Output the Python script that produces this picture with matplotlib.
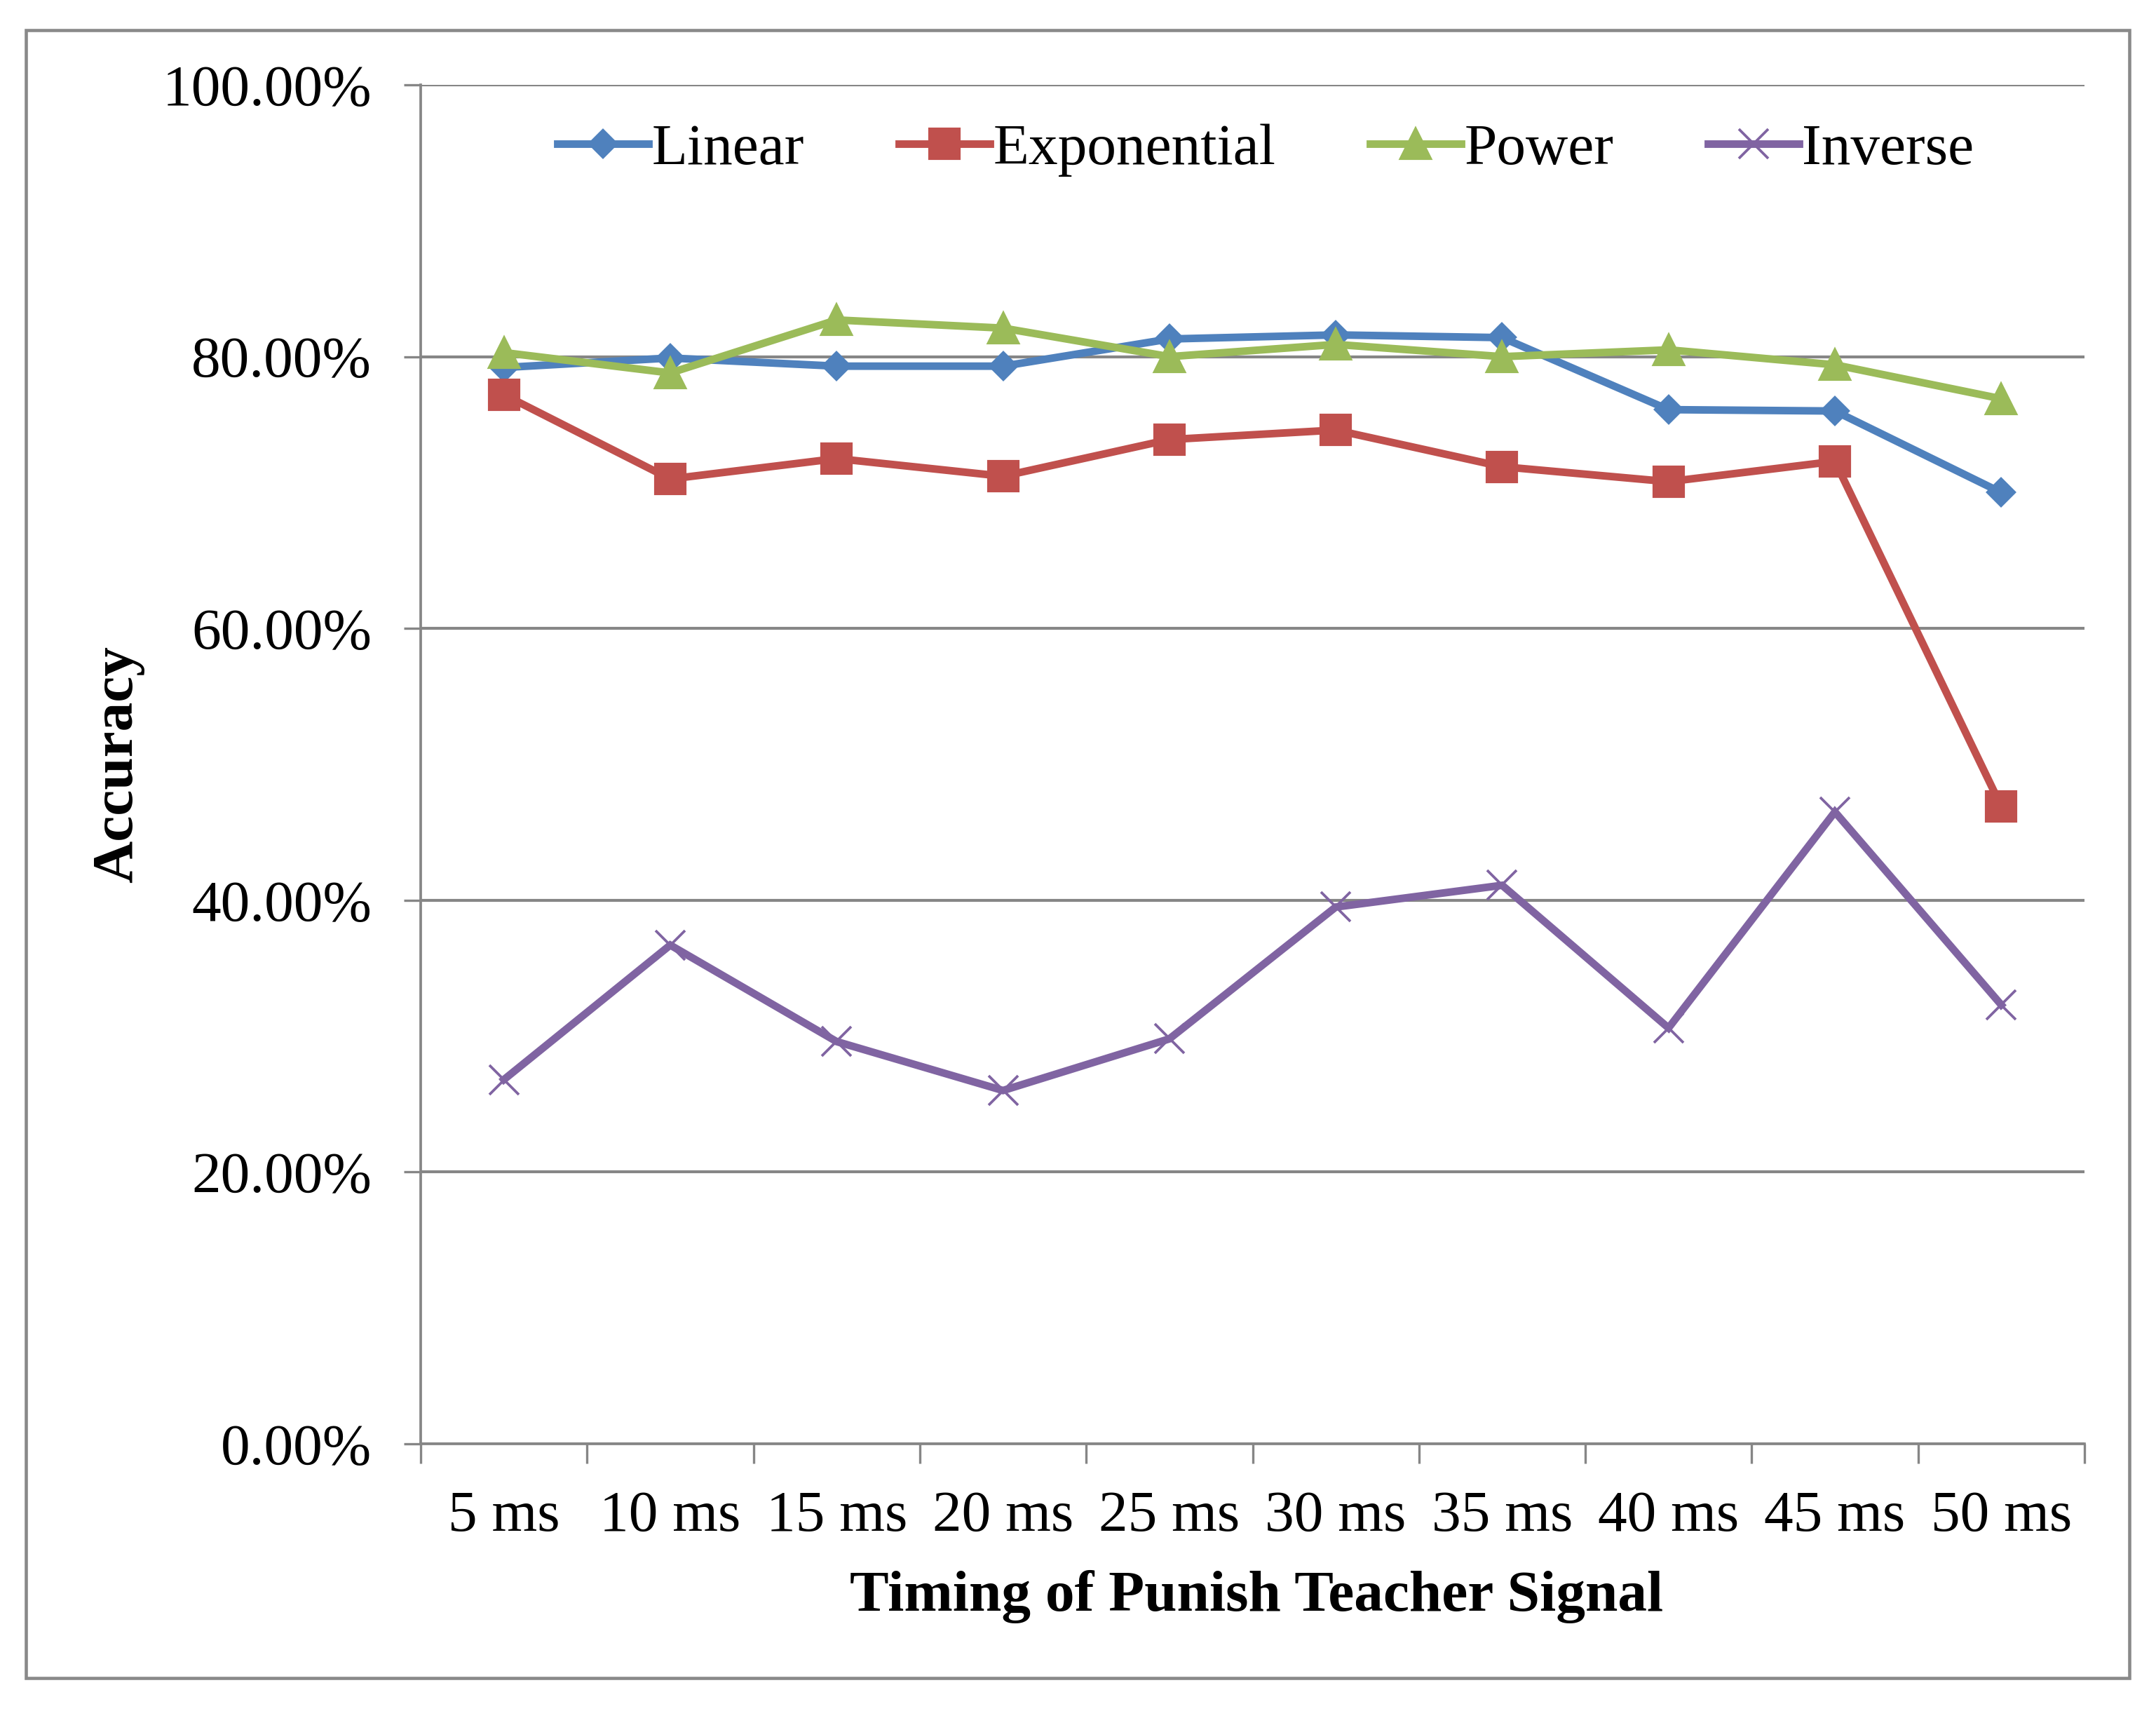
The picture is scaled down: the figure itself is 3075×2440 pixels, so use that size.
import matplotlib
matplotlib.use("Agg")
import matplotlib.pyplot as plt
from matplotlib.patches import Rectangle
from matplotlib.ticker import FixedLocator, FuncFormatter

categories = ["5 ms", "10 ms", "15 ms", "20 ms", "25 ms", "30 ms", "35 ms", "40 ms", "45 ms", "50 ms"]
linear = [79.2, 79.9, 79.3, 79.3, 81.3, 81.6, 81.4, 76.1, 76.0, 70.0]
exponential = [77.2, 71.0, 72.5, 71.2, 73.9, 74.6, 71.9, 70.8, 72.3, 46.9]
power = [80.3, 78.8, 82.7, 82.1, 80.0, 80.9, 80.0, 80.5, 79.4, 76.9]
inverse = [26.8, 36.7, 29.6, 26.0, 29.8, 39.5, 41.1, 30.6, 46.5, 32.3]
series_names = ["Linear", "Exponential", "Power", "Inverse"]
y_ticks = [0, 20, 40, 60, 80, 100]

plt.rcParams['font.family'] = ['Liberation Serif', 'DejaVu Serif']

W, H = 3075, 2440
fig = plt.figure(figsize=(W / 300, H / 300), dpi=300)
fig.patch.set_facecolor("white")

L, R, T, B = 600, 2973, 121, 2059
ax = fig.add_axes([L / W, 1 - B / H, (R - L) / W, (B - T) / H])

x = list(range(len(categories)))
styles = [
    dict(color="#4F81BD", marker="D", ms=6.5),
    dict(color="#C0504D", marker="s", ms=10),
    dict(color="#9BBB59", marker="^", ms=10),
    dict(color="#8064A2", marker="x", ms=10, mew=0.9),
]
for name, vals, st in zip(series_names, [linear, exponential, power, inverse], styles):
    ax.plot(x, vals, label=name, lw=2.6, solid_joinstyle="miter", **st)

ax.set_xlim(-0.5, len(categories) - 0.5)
ax.set_ylim(0, 100)

gray = "#868686"
ax.yaxis.set_major_locator(FixedLocator(y_ticks))
ax.yaxis.set_major_formatter(FuncFormatter(lambda v, p: f"{v:.2f}%"))
ax.grid(axis="y", color=gray, lw=1.0, zorder=0)
ax.set_axisbelow(True)

ax.set_xticks(x)
ax.set_xticklabels(categories)
ax.set_xticks([i - 0.5 for i in range(len(categories) + 1)], minor=True)
ax.tick_params(axis="x", which="major", length=0, pad=16, labelsize=20)
ax.tick_params(axis="x", which="minor", length=6.7, width=0.8, color=gray, direction="out")
ax.tick_params(axis="y", which="major", length=5.8, width=0.8, color=gray, pad=11, labelsize=20)

for s in ["top", "right"]:
    ax.spines[s].set_visible(False)
for s in ["left", "bottom"]:
    ax.spines[s].set_color(gray)
    ax.spines[s].set_linewidth(0.9)

leg = ax.legend(loc="center", bbox_to_anchor=(0.508, 0.952), ncol=4, frameon=False,
                fontsize=20, handlelength=1.56, handletextpad=0.05, columnspacing=1.62,
                borderaxespad=0, borderpad=0)

fig.text(169 / W, 1 - 1090 / H, "Accuracy", rotation=90, ha="center", va="center",
         fontsize=20, fontweight="bold")
fig.text(1792 / W, 1 - 2297 / H, "Timing of Punish Teacher Signal", ha="center", va="baseline",
         fontsize=20, fontweight="bold")

fig.patches.append(Rectangle((37 / W, 1 - 2393 / H), (3037 - 37) / W, (2393 - 43) / H,
                             transform=fig.transFigure, fill=False, edgecolor="#898989", lw=1.1))

fig.savefig("out.png", dpi=300, facecolor="white")
